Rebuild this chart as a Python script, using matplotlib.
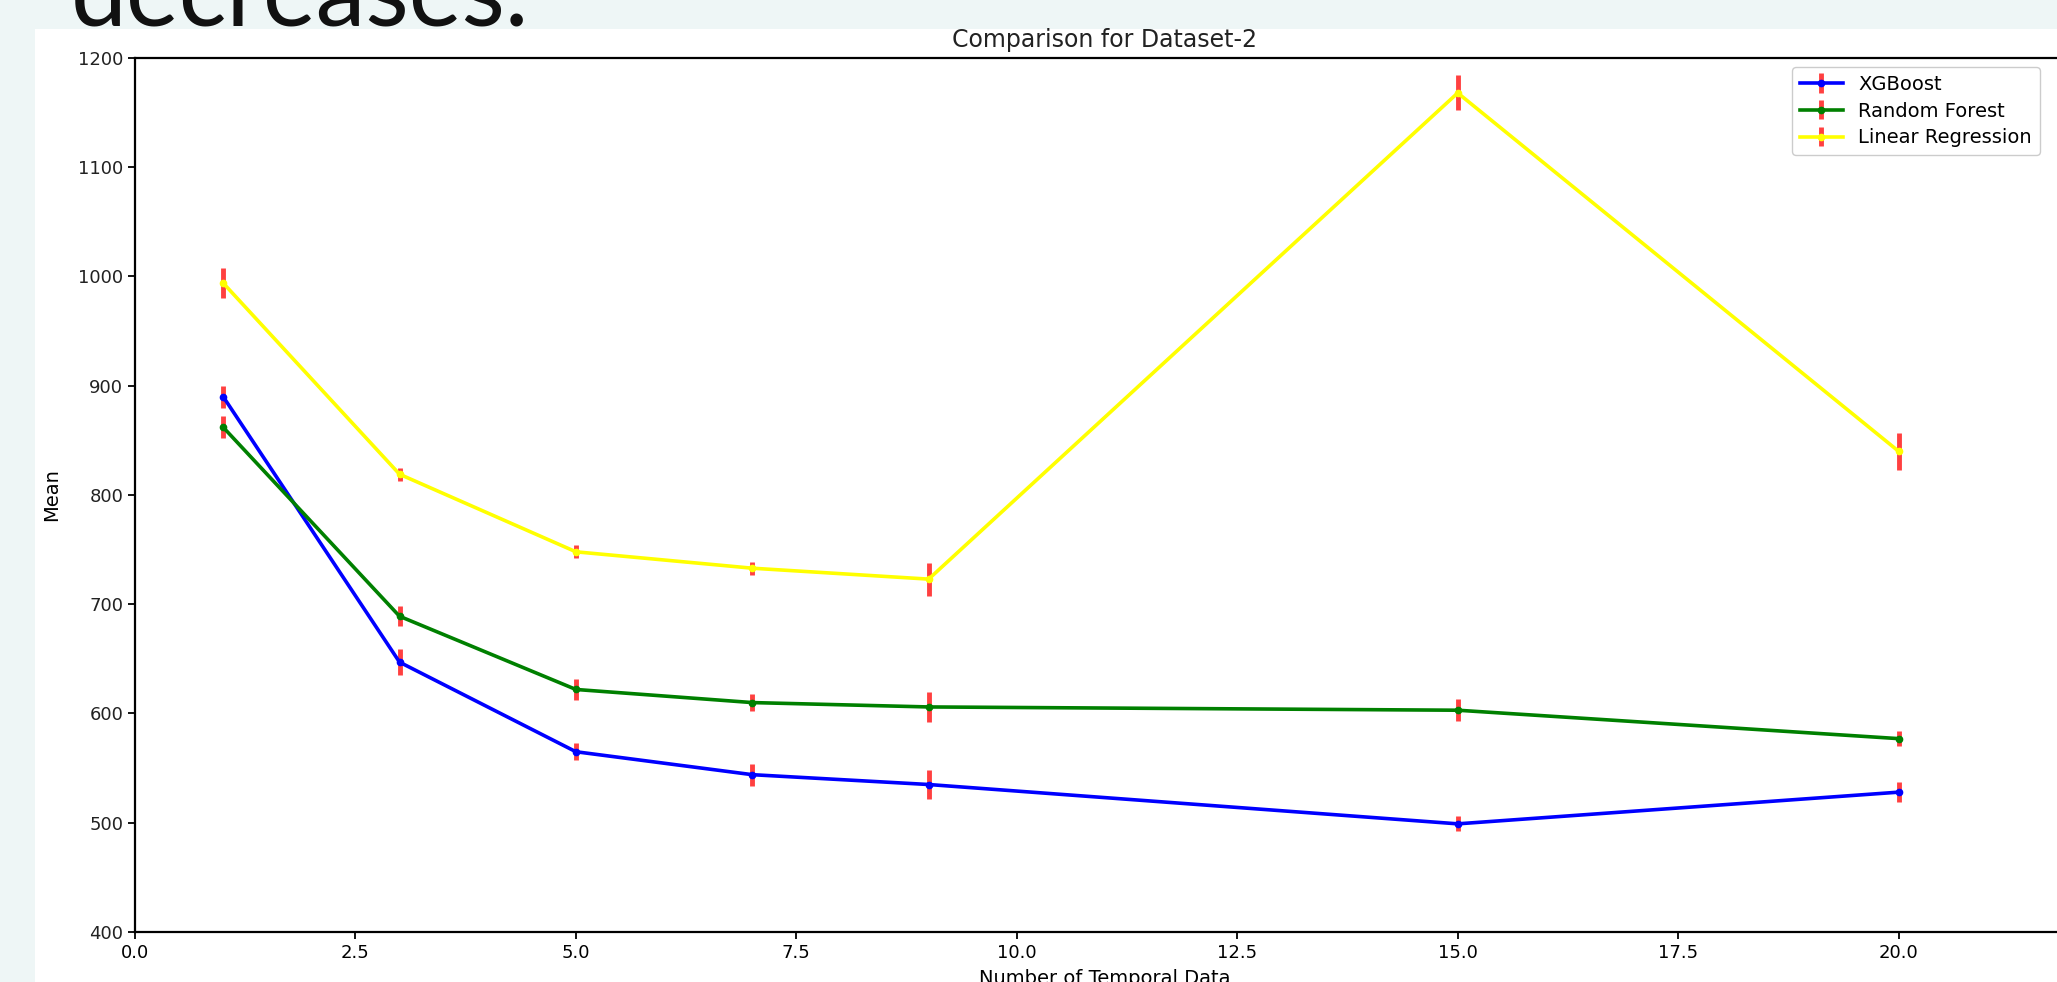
import matplotlib.pyplot as plt
from matplotlib.patches import Rectangle

# number of temporal data points used
temporal = [1, 3, 5, 7, 9, 15, 20]

# mean error and spread for each model
xgb_mean = [890, 647, 565, 544, 535, 499, 528]
xgb_err = [10, 12, 8, 10, 13, 7, 9]
rf_mean = [862, 689, 622, 610, 606, 603, 577]
rf_err = [10, 9, 10, 8, 14, 10, 7]
lr_mean = [994, 819, 748, 733, 723, 1168, 840]
lr_err = [14, 6, 6, 6, 15, 16, 17]

W, H = 2057, 982
fig = plt.figure(figsize=(W / 100, H / 100), dpi=100, facecolor="#eef6f6")

# slide text cut off at the top, and the white chart picture under it
fig.text(71 / W, 1 - 26 / H, "decreases.", fontsize=72, family=["Lato", "DejaVu Sans"],
         color="#111111", va="baseline", ha="left", zorder=5)
fig.patches.append(Rectangle((35 / W, 0), 1, 1 - 29 / H, transform=fig.transFigure,
                             facecolor="white", edgecolor="none", zorder=-5))

ax = fig.add_axes([135 / W, 1 - 932 / H, (2075 - 135) / W, (932 - 58) / H])
ax.set_facecolor("white")

opts = dict(ecolor="red", elinewidth=3.5, capsize=0, marker="o", markersize=4.5, linewidth=2.6)
for mean, err, col, name in [(xgb_mean, xgb_err, "blue", "XGBoost"),
                             (rf_mean, rf_err, "green", "Random Forest"),
                             (lr_mean, lr_err, "yellow", "Linear Regression")]:
    c = ax.errorbar(temporal, mean, yerr=err, color=col, label=name, **opts)
    c[2][0].set_alpha(0.75)

ax.set_xlim(0, 22)
ax.set_ylim(400, 1200)
ax.set_xticks([0, 2.5, 5, 7.5, 10, 12.5, 15, 17.5, 20])
narrow = ["Liberation Sans Narrow", "DejaVu Sans"]
for lab in ax.get_xticklabels():
    lab.set_family(narrow)
    lab.set_fontsize(13)
for lab in ax.get_yticklabels():
    lab.set_fontsize(13)
    lab.set_color("#222222")
ax.tick_params(length=5, width=1.3)
for sp in ax.spines.values():
    sp.set_linewidth(1.6)

ax.set_xlabel("Number of Temporal Data", family=narrow, fontsize=14, labelpad=5)
ax.set_ylabel("Mean", family=narrow, fontsize=14, labelpad=12)
ax.set_title("Comparison for Dataset-2", fontsize=17, color="#222222", pad=8)

ax.legend(loc="upper left", bbox_to_anchor=(1792 / W, 1 - 67 / H),
          bbox_transform=fig.transFigure, borderaxespad=0, fontsize=14,
          labelspacing=0.4, handlelength=2.2, framealpha=1)

fig.savefig("out.png", dpi=100, facecolor=fig.get_facecolor())
